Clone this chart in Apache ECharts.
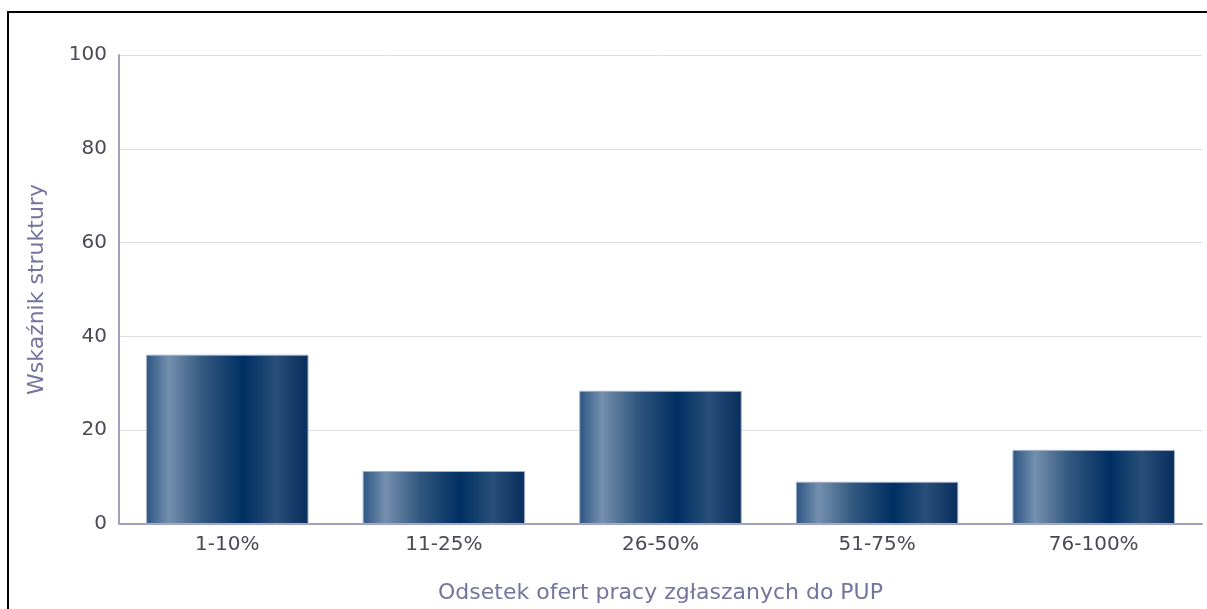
<!DOCTYPE html>
<html><head><meta charset="utf-8">
<script src="https://cdn.jsdelivr.net/npm/echarts@6/dist/echarts.min.js"></script>
<style>
html,body{margin:0;padding:0;background:#fff;}
#frame{position:absolute;left:7px;top:11px;width:1210px;height:610px;border:2px solid #000;box-sizing:border-box;}
#c{position:absolute;left:0;top:0;width:1207px;height:609px;}
</style></head>
<body>
<div id="frame"></div>
<div id="c"></div>
<script>
const categories = ['1-10%', '11-25%', '26-50%', '51-75%', '76-100%'];
const values = [36.1, 11.3, 28.4, 9.0, 15.8];
const yTicks = [0, 20, 40, 60, 80, 100];

const chart = echarts.init(document.getElementById('c'));
const grad = new echarts.graphic.LinearGradient(0, 0, 1, 0, [
  {offset: 0, color: '#2b5583'},
  {offset: 0.14, color: '#7590ae'},
  {offset: 0.35, color: '#32587f'},
  {offset: 0.6, color: '#002f63'},
  {offset: 0.8, color: '#284f78'},
  {offset: 1, color: '#072e5c'}
]);
chart.setOption({
  animation: false,
  grid: {left: 119, right: 5, top: 55, bottom: 85, containLabel: false},
  xAxis: {
    type: 'category', data: categories,
    name: 'Odsetek ofert pracy zgłaszanych do PUP',
    nameLocation: 'middle', nameGap: 58,
    nameTextStyle: {color: '#7474a0', fontSize: 22, fontFamily: 'DejaVu Sans'},
    axisLine: {lineStyle: {color: '#a0a0c0', width: 2}},
    axisTick: {show: false},
    axisLabel: {color: '#4a4a55', fontSize: 20, fontFamily: 'DejaVu Sans', margin: 11}
  },
  yAxis: {
    type: 'value', min: yTicks[0], max: yTicks[yTicks.length-1], interval: 20,
    name: 'Wskaźnik struktury',
    nameLocation: 'middle', nameGap: 71,
    nameTextStyle: {color: '#7474a0', fontSize: 22, fontFamily: 'DejaVu Sans'},
    axisLine: {show: true, lineStyle: {color: '#a0a0c0', width: 2}},
    axisTick: {show: false},
    splitLine: {lineStyle: {color: '#dcdce8', width: 1}},
    axisLabel: {color: '#4a4a55', fontSize: 20, fontFamily: 'DejaVu Sans', margin: 12}
  },
  series: [{
    type: 'bar', data: values, barCategoryGap: '25%',
    itemStyle: {color: grad, borderColor: '#9fb0c8', borderWidth: 1}
  }]
});
</script>
</body></html>
